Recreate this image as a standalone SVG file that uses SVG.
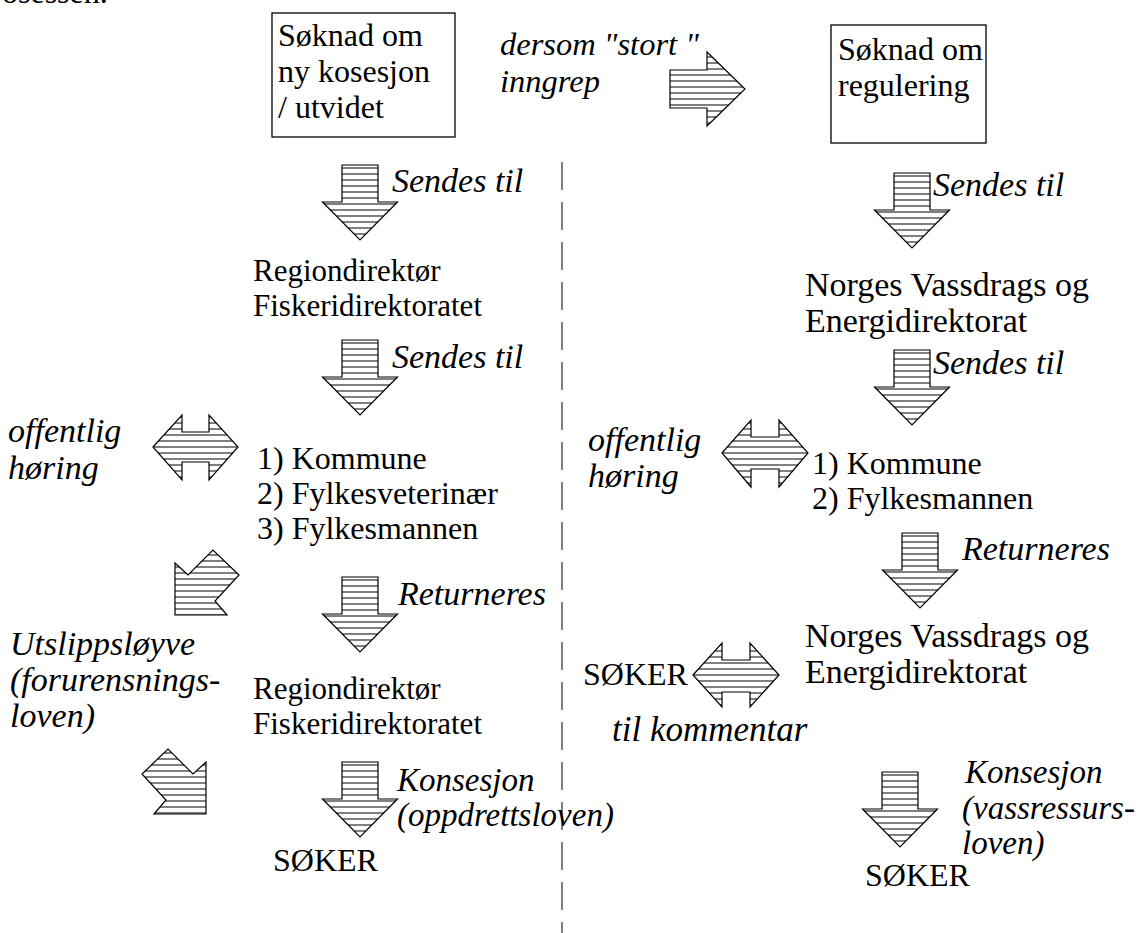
<svg xmlns="http://www.w3.org/2000/svg" width="1145" height="933" viewBox="0 0 1145 933">
<style>
text{font-family:'Liberation Serif','Times New Roman',Times,serif;font-size:32px;fill:#000}
.i{font-style:italic;font-size:33px}
.ar{fill:url(#hatch);stroke:#000;stroke-width:1.2;stroke-linejoin:miter}
.box{fill:#fff;stroke:#000;stroke-width:1.3}
</style>
<defs>
<pattern id="hatch" patternUnits="userSpaceOnUse" width="8" height="6">
<rect width="8" height="6" fill="#fff"/>
<rect y="2" width="8" height="2" fill="#808080"/>
</pattern>
<path id="darrow" d="M-18,0 H18 V37 H37.5 L0,75 L-37.5,37 H-18 Z"/>
</defs>
<rect width="1145" height="933" fill="#fff"/>
<text x="2" y="3">osessen.</text>

<g id="connectors">
<line x1="562" y1="162" x2="562" y2="933" stroke="#808080" stroke-width="2" stroke-dasharray="28 12"/>
<path class="ar" d="M670,70 H707 V52 L745,89 L707,126 V108 H670 Z"/>
<use href="#darrow" class="ar" x="360" y="165"/>
<use href="#darrow" class="ar" x="360" y="340"/>
<use href="#darrow" class="ar" x="360" y="577"/>
<use href="#darrow" class="ar" x="360" y="762"/>
<use href="#darrow" class="ar" x="912" y="173"/>
<use href="#darrow" class="ar" x="912" y="350"/>
<use href="#darrow" class="ar" x="920" y="533"/>
<use href="#darrow" class="ar" x="900" y="772"/>
<path class="ar" d="M153,447 L182,415 V432 H209 V415 L238,447 L209,480 V462 H182 V480 Z"/>
<path class="ar" d="M722,453 L751,420 V437 H779 V420 L808,453 L779,487 V469 H751 V487 Z"/>
<path class="ar" d="M693,675 L722,643 V660 H750 V643 L779,675 L750,707 V692 H722 V707 Z"/>
<path class="ar" d="M175,563 L188,575 L213,550 L239,575 L215,601 L227,615 L175,615 Z"/>
<path class="ar" d="M206,762 L193,774 L168,749 L142,774 L166,800 L154,814 L206,814 Z"/>
</g>

<g id="box-left">
<rect class="box" x="272" y="13" width="183" height="124"/>
<text x="278" y="46" font-size="33">Søknad om</text>
<text x="278" y="82" font-size="33">ny kosesjon</text>
<text x="278" y="118" font-size="33">/ utvidet</text>
</g>
<g id="box-right">
<rect class="box" x="831" y="25" width="155" height="118"/>
<text x="838" y="60">Søknad om</text>
<text x="838" y="96">regulering</text>
</g>
<g id="label-dersom">
<text class="i" x="500" y="55" style="font-size:32.5px">dersom "stort "</text>
<text class="i" x="500" y="92" style="font-size:32.5px">inngrep</text>
</g>

<g id="left-col">
<text class="i" x="392" y="192" style="font-size:34px">Sendes til</text>
<text x="253" y="281" style="font-size:31px">Regiondirektør</text>
<text x="253" y="316" style="font-size:31px">Fiskeridirektoratet</text>
<text class="i" x="392" y="368" style="font-size:34px">Sendes til</text>
<text class="i" x="8" y="442" style="font-size:34px">offentlig</text>
<text class="i" x="8" y="479" style="font-size:34px">høring</text>
<text x="257" y="469">1) Kommune</text>
<text x="257" y="504">2) Fylkesveterinær</text>
<text x="257" y="539">3) Fylkesmannen</text>
<text class="i" x="398" y="605" style="font-size:34px">Returneres</text>
<text class="i" x="10" y="655" style="font-size:34px">Utslippsløyve</text>
<text class="i" x="10" y="691" style="font-size:34px">(forurensnings-</text>
<text class="i" x="10" y="727" style="font-size:34px">loven)</text>
<text x="253" y="699" style="font-size:31px">Regiondirektør</text>
<text x="253" y="734" style="font-size:31px">Fiskeridirektoratet</text>
<text class="i" x="397" y="791">Konsesjon</text>
<text class="i" x="397" y="826">(oppdrettsloven)</text>
<text x="273" y="871">SØKER</text>
</g>

<g id="right-col">
<text class="i" x="933" y="196" style="font-size:34px">Sendes til</text>
<text x="805" y="296" style="font-size:34px">Norges Vassdrags og</text>
<text x="805" y="332" style="font-size:34px">Energidirektorat</text>
<text class="i" x="933" y="374" style="font-size:34px">Sendes til</text>
<text class="i" x="588" y="451" style="font-size:34px">offentlig</text>
<text class="i" x="588" y="487" style="font-size:34px">høring</text>
<text x="812" y="474">1) Kommune</text>
<text x="812" y="509">2) Fylkesmannen</text>
<text class="i" x="962" y="560" style="font-size:34px">Returneres</text>
<text x="805" y="647" style="font-size:34px">Norges Vassdrags og</text>
<text x="805" y="683" style="font-size:34px">Energidirektorat</text>
<text x="583" y="685">SØKER</text>
<text class="i" x="612" y="741" style="font-size:35px">til kommentar</text>
<text class="i" x="965" y="783">Konsesjon</text>
<text class="i" x="962" y="819">(vassressurs-</text>
<text class="i" x="962" y="854">loven)</text>
<text x="865" y="886">SØKER</text>
</g>
</svg>
